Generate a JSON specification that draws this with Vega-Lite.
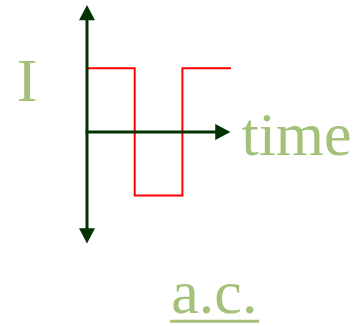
{
  "$schema": "https://vega.github.io/schema/vega-lite/v6.json",
  "width": 356,
  "height": 326,
  "padding": 0,
  "autosize": {"type": "fit", "contains": "padding"},
  "background": "white",
  "config": {"view": {"stroke": null}},
  "encoding": {
    "x": {"type": "quantitative", "scale": {"domain": [-1.8239, 5.6394], "nice": false, "zero": false}, "axis": null},
    "y": {"type": "quantitative", "scale": {"domain": [-3.0203, 2.0734], "nice": false, "zero": false}, "axis": null}
  },
  "layer": [
    {
      "data": {"values": [
        {"t": 0, "I": 1, "o": 0},
        {"t": 1, "I": 1, "o": 1},
        {"t": 1, "I": -1, "o": 2},
        {"t": 2, "I": -1, "o": 3},
        {"t": 2, "I": 1, "o": 4},
        {"t": 3.02, "I": 1, "o": 5}
      ]},
      "mark": {"type": "line", "color": "#FF0000", "strokeWidth": 2, "strokeJoin": "miter", "strokeCap": "butt"},
      "encoding": {
        "x": {"field": "t", "type": "quantitative"},
        "y": {"field": "I", "type": "quantitative"},
        "order": {"field": "o", "type": "quantitative"}
      }
    },
    {
      "data": {"values": [{"t": 0, "I1": 1.85, "I2": -1.6}]},
      "mark": {"type": "rule", "color": "#003300", "strokeWidth": 3},
      "encoding": {
        "x": {"field": "t", "type": "quantitative"},
        "y": {"field": "I1", "type": "quantitative"},
        "y2": {"field": "I2"}
      }
    },
    {
      "data": {"values": [{"t1": -0.03, "t2": 2.8, "I": 0}]},
      "mark": {"type": "rule", "color": "#003300", "strokeWidth": 3},
      "encoding": {
        "x": {"field": "t1", "type": "quantitative"},
        "x2": {"field": "t2"},
        "y": {"field": "I", "type": "quantitative"}
      }
    },
    {
      "data": {"values": [
        {"t": 0, "I": 1.87, "dir": "up"},
        {"t": 0, "I": -1.63, "dir": "down"},
        {"t": 2.84, "I": 0, "dir": "right"}
      ]},
      "mark": {"type": "point", "filled": true, "color": "#003300", "opacity": 1, "size": 256, "strokeWidth": 0},
      "encoding": {
        "x": {"field": "t", "type": "quantitative"},
        "y": {"field": "I", "type": "quantitative"},
        "shape": {"field": "dir", "type": "nominal", "legend": null,
          "scale": {"domain": ["up", "down", "right"], "range": ["M0,-1L-1,0.9L1,0.9Z", "M0,1L-1,-0.9L1,-0.9Z", "M1,0L-0.9,-1L-0.9,1Z"]}}
      }
    },
    {
      "data": {"values": [
        {"label": "I", "t": -1.258, "I": 0.48},
        {"label": "time", "t": 4.392, "I": -0.364},
        {"label": "a.c.", "t": 2.67, "I": -2.852}
      ]},
      "mark": {"type": "text", "font": "Liberation Serif", "fontSize": 62, "color": "#A3C178", "baseline": "alphabetic", "align": "center"},
      "encoding": {
        "x": {"field": "t", "type": "quantitative"},
        "y": {"field": "I", "type": "quantitative"},
        "text": {"field": "label"}
      }
    },
    {
      "data": {"values": [{"t1": 1.74, "t2": 3.606, "I": -2.977}]},
      "mark": {"type": "rule", "color": "#A3C178", "strokeWidth": 3},
      "encoding": {
        "x": {"field": "t1", "type": "quantitative"},
        "x2": {"field": "t2"},
        "y": {"field": "I", "type": "quantitative"}
      }
    }
  ]
}
